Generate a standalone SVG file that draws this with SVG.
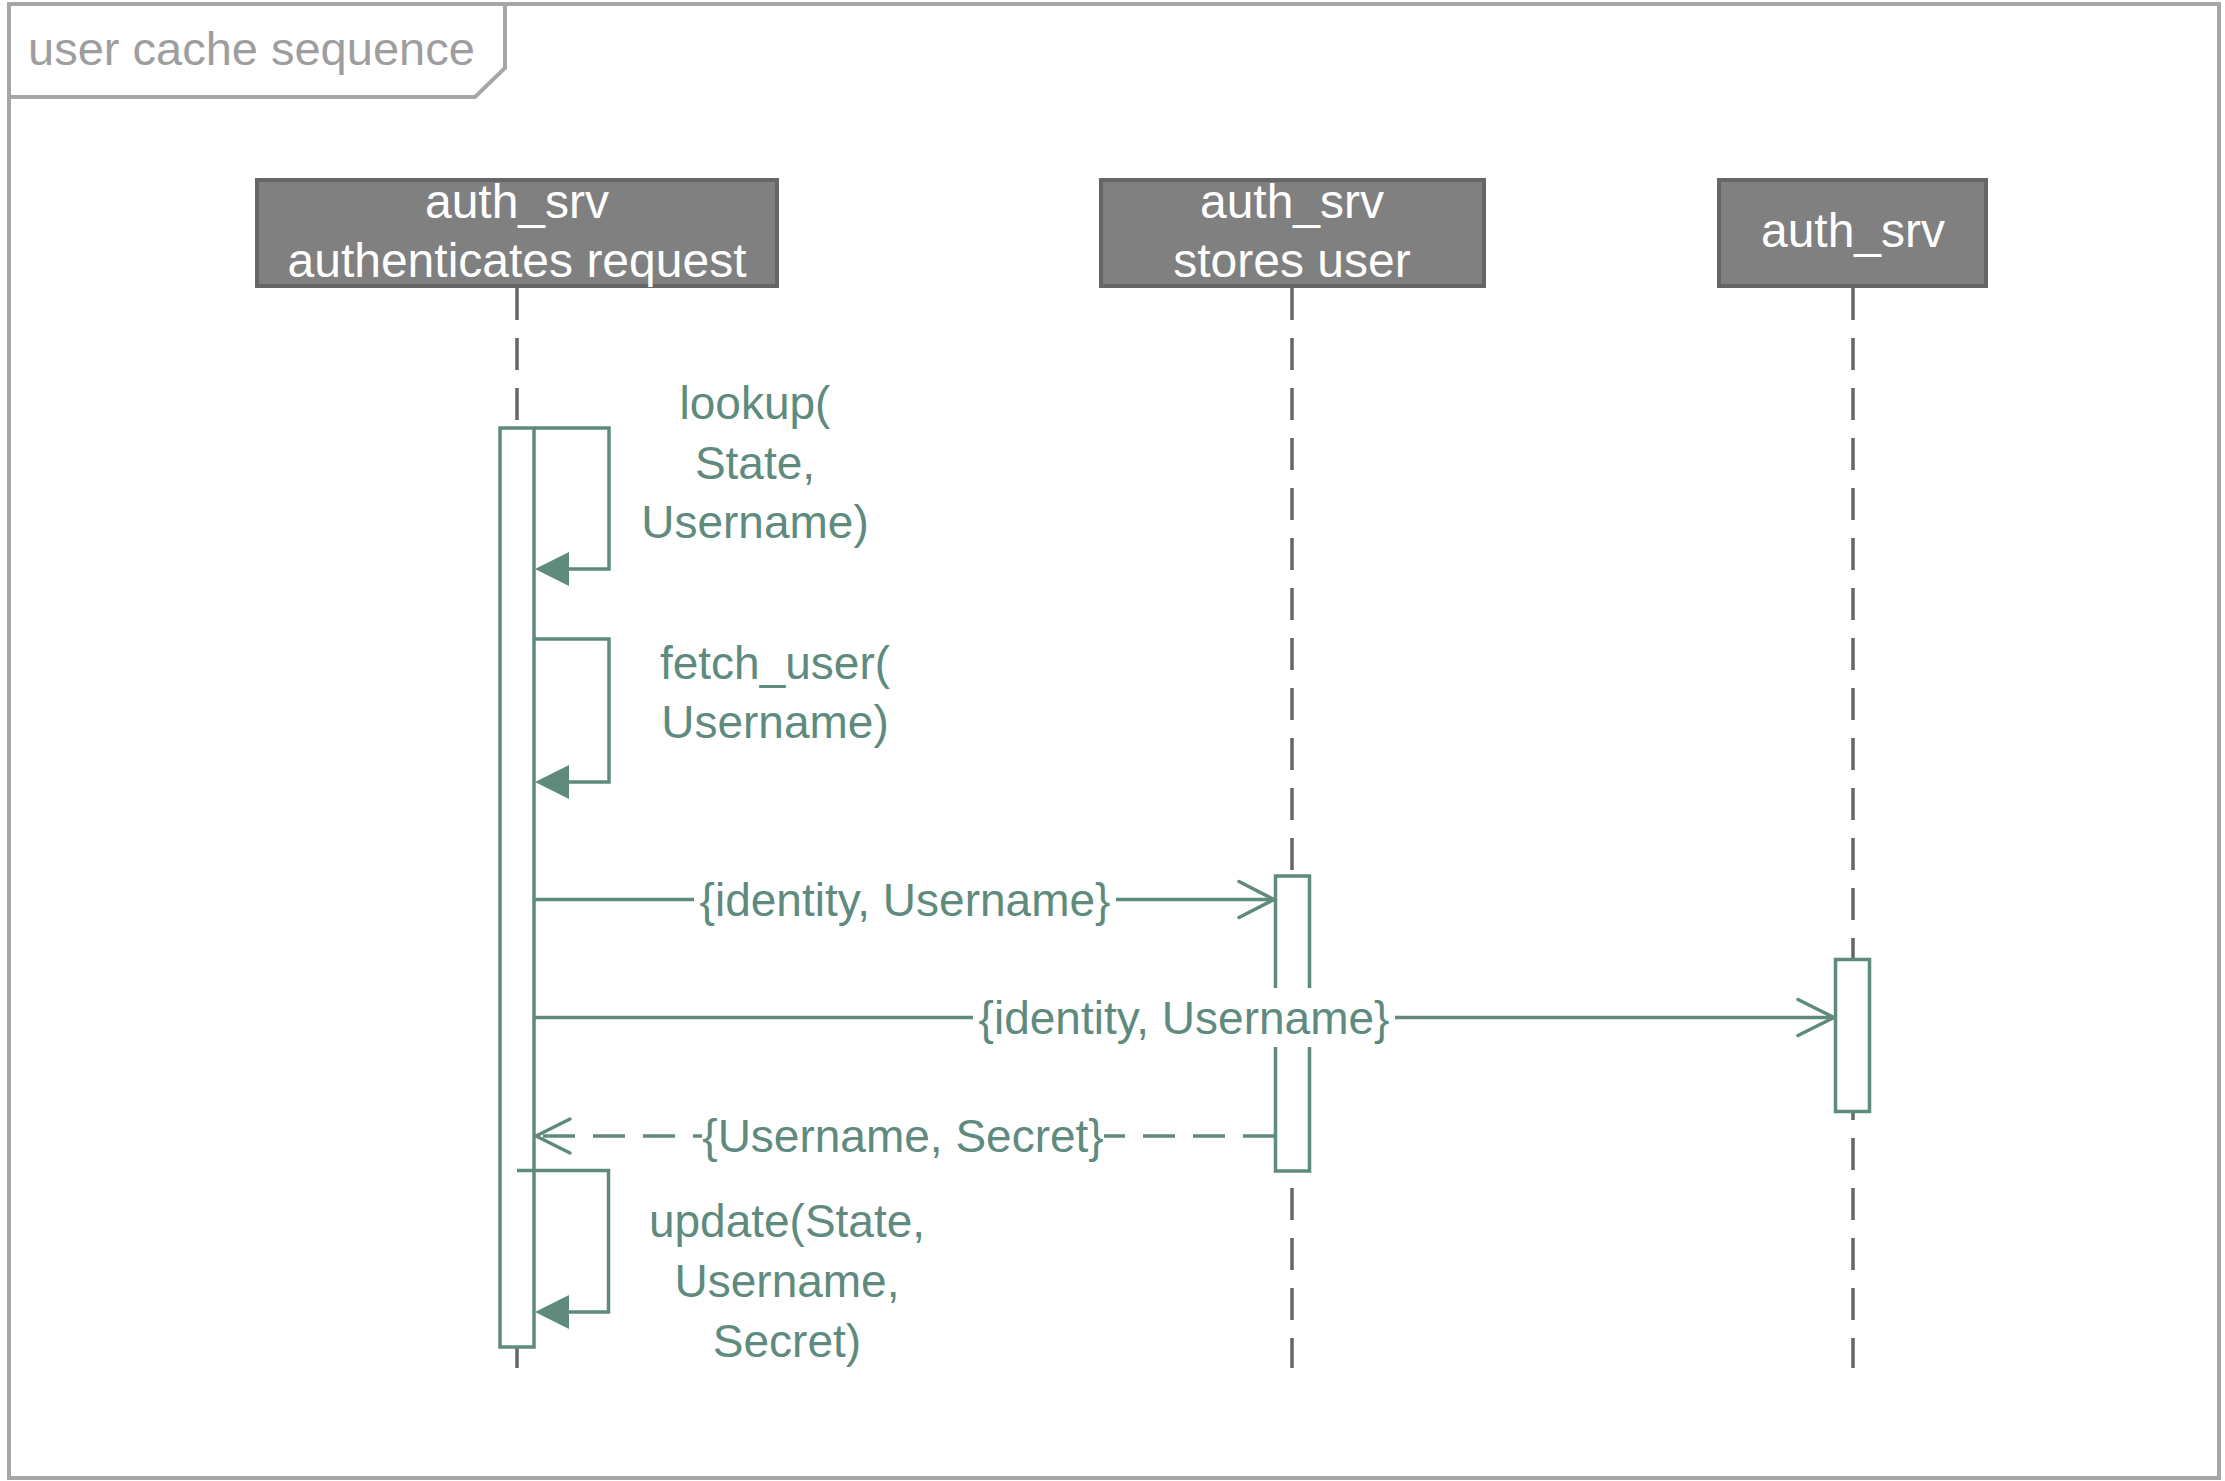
<svg xmlns="http://www.w3.org/2000/svg" width="2225" height="1481" viewBox="0 0 2225 1481">
<style>
.frame{fill:none;stroke:#a6a6a6;stroke-width:4}
.title{font-family:"Liberation Sans",Arial,sans-serif;font-size:47px;fill:#9e9e9e}
.pbox{fill:#808080;stroke:#666666;stroke-width:4}
.ptext{font-family:"Liberation Sans",Arial,sans-serif;font-size:48px;fill:#ffffff;text-anchor:middle}
.life{stroke:#666666;stroke-width:3.5;stroke-dasharray:32 18;fill:none}
.act{fill:#ffffff;stroke:#5f8a7e;stroke-width:3.5}
.msg{fill:none;stroke:#5f8a7e;stroke-width:3.5}
.ret{fill:none;stroke:#5f8a7e;stroke-width:3.5;stroke-dasharray:32 18}
.head{fill:#5f8a7e;stroke:none}
.open{fill:none;stroke:#5f8a7e;stroke-width:3.5;stroke-linecap:round;stroke-linejoin:round}
.mtext{font-family:"Liberation Sans",Arial,sans-serif;font-size:46px;fill:#5f8a7e;text-anchor:middle}
.lblbg{fill:#ffffff}
</style>
<rect x="0" y="0" width="2225" height="1481" fill="#ffffff"/>
<g id="frame">
<rect class="frame" x="9" y="4" width="2210" height="1474"/>
<path class="frame" d="M9,97 L475,97 L505,68 L505,4"/>
<text class="title" x="28" y="65">user cache sequence</text>
</g>
<g id="lifelines">
<line class="life" x1="517" y1="288" x2="517" y2="1368"/>
<line class="life" x1="1292" y1="288" x2="1292" y2="1368"/>
<line class="life" x1="1853" y1="288" x2="1853" y2="1368"/>
</g>
<g id="p1">
<rect class="pbox" x="257" y="180" width="520" height="106"/>
<text class="ptext" x="517" y="218">auth_srv</text>
<text class="ptext" x="517" y="277">authenticates request</text>
</g>
<g id="p2">
<rect class="pbox" x="1101" y="180" width="383" height="106"/>
<text class="ptext" x="1292" y="218">auth_srv</text>
<text class="ptext" x="1292" y="277">stores user</text>
</g>
<g id="p3">
<rect class="pbox" x="1719" y="180" width="267" height="106"/>
<text class="ptext" x="1853" y="247">auth_srv</text>
</g>
<g id="activations">
<rect class="act" x="500" y="428" width="34" height="919"/>
<rect class="act" x="1275.5" y="876" width="34" height="295"/>
<rect class="act" x="1835.5" y="959.5" width="34" height="152"/>
</g>
<g id="connectors">
<g id="m1">
<path class="msg" d="M534,428 L609,428 L609,569 L560,569"/>
<polygon class="head" points="535,569 569,552 569,586"/>
<text class="mtext" x="755" y="419">lookup(</text>
<text class="mtext" x="755" y="479">State,</text>
<text class="mtext" x="755" y="538">Username)</text>
</g>
<g id="m2">
<path class="msg" d="M534,639 L609,639 L609,782 L560,782"/>
<polygon class="head" points="535,782 569,765 569,799"/>
<text class="mtext" x="775" y="679">fetch_user(</text>
<text class="mtext" x="775" y="738">Username)</text>
</g>
<g id="m3">
<line class="msg" x1="534" y1="899.5" x2="1274" y2="899.5"/>
<polyline class="open" points="1239,881.5 1274,899.5 1239,917.5"/>
<rect class="lblbg" x="694" y="871" width="422" height="58"/>
<text class="mtext" x="905" y="915.5">{identity, Username}</text>
</g>
<g id="m4">
<line class="msg" x1="534" y1="1017.5" x2="1834" y2="1017.5"/>
<polyline class="open" points="1798,999.5 1834,1017.5 1798,1035.5"/>
<rect class="lblbg" x="973" y="988" width="422" height="59"/>
<text class="mtext" x="1184" y="1033.5">{identity, Username}</text>
</g>
<g id="m5">
<line class="ret" x1="1275" y1="1136" x2="536" y2="1136"/>
<polyline class="open" points="570,1119 536,1136 570,1153"/>
<rect class="lblbg" x="702" y="1107" width="402" height="58"/>
<text class="mtext" x="903" y="1152">{Username, Secret}</text>
</g>
<g id="m6">
<path class="msg" d="M517,1170.5 L608.5,1170.5 L608.5,1312 L560,1312"/>
<polygon class="head" points="535,1312 569,1295 569,1329"/>
<text class="mtext" x="787" y="1237">update(State,</text>
<text class="mtext" x="787" y="1297">Username,</text>
<text class="mtext" x="787" y="1357">Secret)</text>
</g>
</g>
</svg>
